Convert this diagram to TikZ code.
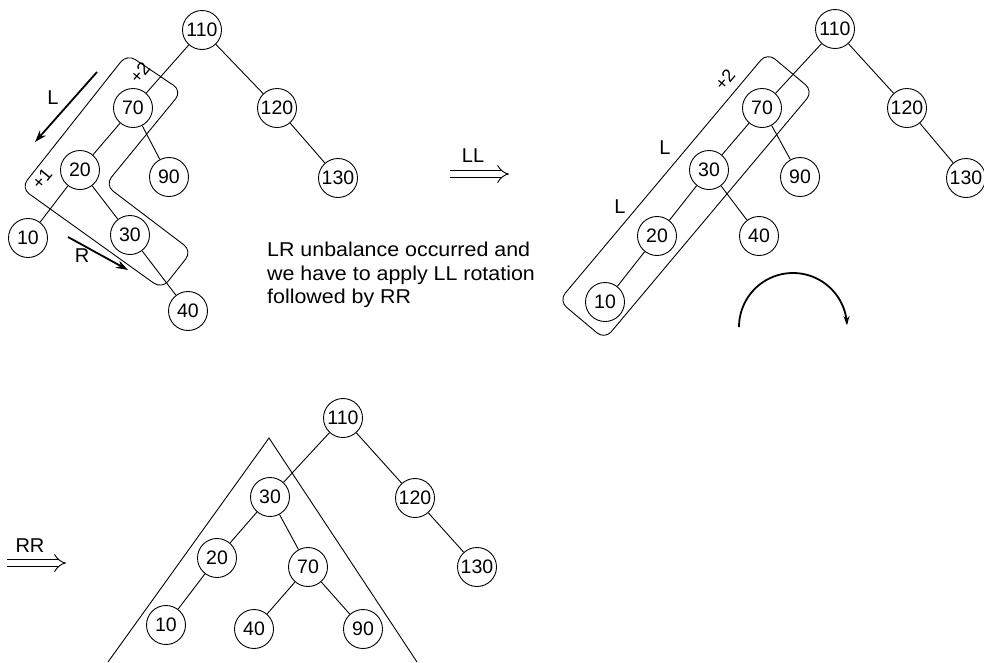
\documentclass[tikz,border=0pt]{standalone}
\usepackage{fontspec}
\setmainfont{Liberation Sans}
\usetikzlibrary{arrows.meta}
\tikzset{
  tn/.style={circle,draw,line width=0.9pt,minimum size=39pt,inner sep=0pt,font=\fontsize{19.5}{22}\selectfont},
  edge/.style={line width=0.9pt},
  boxline/.style={line width=0.9pt,rounded corners=10pt},
  dirarrow/.style={line width=1.8pt,-{Stealth[length=12pt,width=8pt]}},
  lbl/.style={inner sep=0pt,font=\fontsize{20}{22}\selectfont},
  smalllbl/.style={inner sep=0pt,font=\fontsize{18}{20}\selectfont,rotate=50},
  txt/.style={inner sep=0pt,anchor=base west,font=\fontsize{20}{23}\selectfont},
  dbl/.style={line width=0.9pt,double distance=5.5pt,-{Implies}},
}
\begin{document}
\begin{tikzpicture}[x=1pt,y=-1pt]
\useasboundingbox (0,0) rectangle (984,662);
% ---------- tree 1 ----------
\node[tn] (a110) at (202,30) {110};
\node[tn] (a70) at (133,108) {70};
\node[tn] (a120) at (277,108) {120};
\node[tn] (a20) at (80,170) {20};
\node[tn] (a90) at (169,177) {90};
\node[tn] (a130) at (338,178) {130};
\node[tn] (a10) at (28,238) {10};
\node[tn] (a30) at (130,235) {30};
\node[tn] (a40) at (188,311) {40};
\draw[edge] (a110)--(a70) (a110)--(a120) (a120)--(a130) (a70)--(a20) (a70)--(a90)
  (a20)--(a10) (a20)--(a30) (a30)--(a40);
\draw[boxline] (21,188) -- (127,54) -- (182,91) -- (105,185) -- (192,251) -- (162,289) -- cycle;
\node[smalllbl] (p2a) at (140,73) {+2};
\node[smalllbl] (p1a) at (42,179) {+1};
\coordinate (Ls) at (97,72);
\coordinate (Le) at (35,142);
\draw[dirarrow] (Ls) -- (Le);
\node[lbl] (Lt) at (53,98) {L};
\coordinate (Rs) at (68,237);
\coordinate (Re) at (128,270);
\draw[dirarrow] (Rs) -- (Re);
\node[lbl] (Rt) at (82,256) {R};
% LL arrow
\coordinate (LLs) at (450,174);
\coordinate (LLe) at (509,174);
\draw[dbl] (LLs) -- (LLe);
\node[lbl] (LLt) at (473,156) {LL};
% text
\node[txt] (t1) at (267,256.7) {\scalebox{1.07}[1]{LR unbalance occurred and}};
\node[txt] (t2) at (267,280) {\scalebox{1.07}[1]{we have to apply LL rotation}};
\node[txt] (t3) at (267,303.3) {\scalebox{1.07}[1]{followed by RR}};
% ---------- tree 2 ----------
\node[tn] (b110) at (835,29) {110};
\node[tn] (b70) at (762,108) {70};
\node[tn] (b120) at (907,108) {120};
\node[tn] (b30) at (709,170) {30};
\node[tn] (b90) at (800,177) {90};
\node[tn] (b130) at (966,178) {130};
\node[tn] (b20) at (657,236) {20};
\node[tn] (b40) at (759,236) {40};
\node[tn] (b10) at (605,302) {10};
\draw[edge] (b110)--(b70) (b110)--(b120) (b120)--(b130) (b70)--(b30) (b70)--(b90)
  (b30)--(b20) (b30)--(b40) (b20)--(b10);
\draw[boxline] (813.2,91.2) -- (767.2,52.6) -- (558.8,300.8) -- (604.8,339.4) -- cycle;
\node[smalllbl] (p2b) at (725,80) {+2};
\node[lbl] (L1) at (665,148) {L};
\node[lbl] (L2) at (620,207) {L};
\draw[line width=1.8pt,-{Stealth[length=9pt,width=6pt]}]
  plot[domain=180:358,samples=60,smooth] ({793+54*cos(\x)},{327+54*sin(\x)});
% ---------- tree 3 ----------
\node[tn] (c110) at (343,418) {110};
\node[tn] (c30) at (270,497) {30};
\node[tn] (c120) at (415,498) {120};
\node[tn] (c20) at (217,558) {20};
\node[tn] (c70) at (308,567) {70};
\node[tn] (c130) at (477,567) {130};
\node[tn] (c10) at (166,625) {10};
\node[tn] (c40) at (254,629) {40};
\node[tn] (c90) at (363,629) {90};
\draw[edge] (c110)--(c30) (c110)--(c120) (c120)--(c130) (c30)--(c20) (c30)--(c70)
  (c20)--(c10) (c70)--(c40) (c70)--(c90);
\draw[edge] (108,662) -- (269,438) -- (417,662);
% RR arrow
\coordinate (RRs) at (7,563);
\coordinate (RRe) at (66,563);
\draw[dbl] (RRs) -- (RRe);
\node[lbl] (RRt) at (30,546) {RR};
\end{tikzpicture}
\end{document}
